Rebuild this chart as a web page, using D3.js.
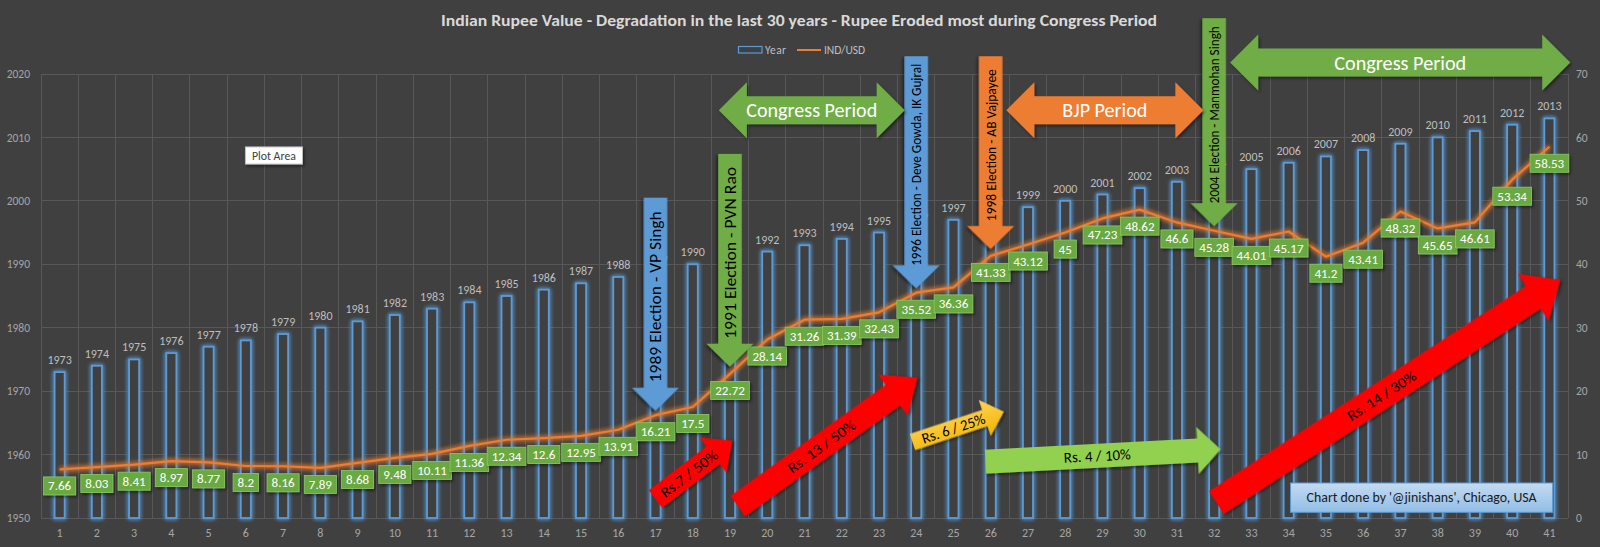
<!DOCTYPE html>
<html lang="en">
<head>
<meta charset="UTF-8">
<script src="https://d3js.org/d3.v7.min.js"></script>
<title>Indian Rupee Value</title>
<style>
  html, body { margin: 0; padding: 0; background: #404040; }
  svg { display: block; }
  text { font-family: Carlito, Calibri, "Liberation Sans Narrow", "DejaVu Sans Condensed", "Open Sans", sans-serif; }
</style>
</head>
<body>
<svg id="chart" width="1600" height="547"></svg>
<script>
// ---- data ----
const categories = [1, 2, 3, 4, 5, 6, 7, 8, 9, 10, 11, 12, 13, 14, 15, 16, 17, 18, 19, 20,
    21, 22, 23, 24, 25, 26, 27, 28, 29, 30, 31, 32, 33, 34, 35, 36, 37, 38, 39, 40, 41];
const years = [1973, 1974, 1975, 1976, 1977, 1978, 1979, 1980, 1981, 1982, 1983, 1984, 1985, 1986,
    1987, 1988, 1989, 1990, 1991, 1992, 1993, 1994, 1995, 1996, 1997, 1998, 1999, 2000, 2001, 2002,
    2003, 2004, 2005, 2006, 2007, 2008, 2009, 2010, 2011, 2012, 2013];
const indUsd = [7.66, 8.03, 8.41, 8.97, 8.77, 8.2, 8.16, 7.89, 8.68, 9.48, 10.11, 11.36, 12.34, 12.6,
    12.95, 13.91, 16.21, 17.5, 22.72, 28.14, 31.26, 31.39, 32.43, 35.52, 36.36, 41.33, 43.12, 45,
    47.23, 48.62, 46.6, 45.28, 44.01, 45.17, 41.2, 43.41, 48.32, 45.65, 46.61, 53.34, 58.53];
const leftTicks = [1950, 1960, 1970, 1980, 1990, 2000, 2010, 2020];
const rightTicks = [0, 10, 20, 30, 40, 50, 60, 70];
const seriesNames = ["Year", "IND/USD"];
const title = "Indian Rupee Value - Degradation in the last 30 years - Rupee Eroded most during Congress Period";

// annotations, placed in chart units (category position, IND/USD value)
const electionArrows = [
    { label: "1989 Election - VP Singh", cat: 17, from: 50.5, to: 16.9, fill: "#5b9bd5", size: 17, len: 171 },
    { label: "1991 Election - PVN Rao", cat: 19, from: 57.4, to: 23.85, fill: "#70ad47", size: 17, len: 172 },
    { label: "1996 Election - Deve Gowda, IK Gujral", cat: 24, from: 72.8, to: 36.2, fill: "#5b9bd5", size: 13.5, len: 202 },
    { label: "1998 Election - AB Vajpayee", cat: 26, from: 72.8, to: 42.4, fill: "#ed7d31", size: 14, len: 152 },
    { label: "2004 Election - Manmohan Singh", cat: 32, from: 78.8, to: 46.0, fill: "#70ad47", size: 13.5, len: 177 }
];
const periodArrows = [
    { label: "Congress Period", from: 18.70, to: 23.69, at: 64.3, fill: "#70ad47", len: 131 },
    { label: "BJP Period", from: 26.42, to: 31.71, at: 64.3, fill: "#ed7d31", len: 85 },
    { label: "Congress Period", from: 32.43, to: 41.56, at: 71.8, fill: "#70ad47", len: 132 }
];
const changeArrows = [
    { label: "Rs.7 / 50%", from: [17.0, 3.0], to: [19.06, 12.19], fill: "#ff0000", sw: 22, hw: 44, hl: 24, len: 68 },
    { label: "Rs. 13 / 50%", from: [19.21, 1.89], to: [24.03, 22.12], fill: "#ff0000", sw: 25, hw: 50, hl: 30, len: 80 },
    { label: "Rs. 6 / 25%", from: [23.90, 11.98], to: [26.35, 16.76], fill: "url(#gold)", sw: 17, hw: 38, hl: 20, len: 66 },
    { label: "Rs. 4 / 10%", from: [25.86, 8.88], to: [32.17, 10.83], fill: "#92d050", sw: 24, hw: 47, hl: 23, len: 67 },
    { label: "Rs. 14 / 30%", from: [32.06, 2.44], to: [41.29, 37.52], fill: "#ff0000", sw: 27, hw: 56, hl: 32, len: 79 }
];

// ---- layout ----
const svg = d3.select("#chart");
const plot = { left: 41, right: 1568, top: 74, bottom: 518 };

const x = d3.scaleBand().domain(categories).range([plot.left, plot.right])
    .paddingInner(0.73).paddingOuter(0.365);
const xc = d3.scaleLinear().domain([0.5, categories.length + 0.5]).range([plot.left, plot.right]);
const yLeft = d3.scaleLinear().domain([1950, 2020]).range([plot.bottom, plot.top]);
const yRight = d3.scaleLinear().domain([0, 70]).range([plot.bottom, plot.top]);

const defs = svg.append("defs");
const glow = (id, sd) => {
    const f = defs.append("filter").attr("id", id)
        .attr("x", "-60%").attr("y", "-20%").attr("width", "220%").attr("height", "140%");
    f.append("feGaussianBlur").attr("in", "SourceGraphic").attr("stdDeviation", sd).attr("result", "b");
    const m = f.append("feMerge");
    m.append("feMergeNode").attr("in", "b");
    m.append("feMergeNode").attr("in", "b");
    m.append("feMergeNode").attr("in", "SourceGraphic");
};
glow("glowBlue", 2.2);
glow("glowOrange", 2.5);
defs.append("filter").attr("id", "shadow")
    .attr("x", "-20%").attr("y", "-20%").attr("width", "140%").attr("height", "150%")
    .append("feDropShadow").attr("dx", 1.5).attr("dy", 2).attr("stdDeviation", 1.5)
    .attr("flood-color", "#000").attr("flood-opacity", 0.45);
const gold = defs.append("linearGradient").attr("id", "gold").attr("x1", 0).attr("y1", 0).attr("x2", 0).attr("y2", 1);
gold.append("stop").attr("offset", "0%").attr("stop-color", "#ffd457");
gold.append("stop").attr("offset", "100%").attr("stop-color", "#f0b400");
const credit = defs.append("linearGradient").attr("id", "credit").attr("x1", 0).attr("y1", 0).attr("x2", 0).attr("y2", 1);
credit.append("stop").attr("offset", "0%").attr("stop-color", "#c3dbf2");
credit.append("stop").attr("offset", "100%").attr("stop-color", "#92bde6");

svg.append("rect").attr("width", 1600).attr("height", 547).attr("fill", "#404040");

// title + legend
svg.append("text")
    .attr("x", 799).attr("y", 26)
    .attr("text-anchor", "middle")
    .attr("font-size", 16).attr("font-weight", "bold")
    .attr("fill", "#d9d9d9")
    .attr("textLength", 716).attr("lengthAdjust", "spacingAndGlyphs")
    .text(title);

const legend = svg.append("g").attr("font-size", 11.5).attr("fill", "#bfbfbf");
legend.append("rect").attr("x", 738.5).attr("y", 46.5).attr("width", 23.5).attr("height", 6.5)
    .attr("fill", "none").attr("stroke", "#5b9bd5").attr("stroke-width", 1.2);
legend.append("text").attr("x", 765).attr("y", 54).attr("textLength", 21).text(seriesNames[0]);
legend.append("line").attr("x1", 797).attr("x2", 821).attr("y1", 50).attr("y2", 50)
    .attr("stroke", "#ed7d31").attr("stroke-width", 2);
legend.append("text").attr("x", 824).attr("y", 54).attr("textLength", 41).text(seriesNames[1]);

// grid
const grid = svg.append("g").attr("stroke", "#585858").attr("stroke-width", 1).attr("shape-rendering", "crispEdges");
grid.selectAll(".h").data(leftTicks).join("line")
    .attr("x1", plot.left).attr("x2", plot.right)
    .attr("y1", d => yLeft(d)).attr("y2", d => yLeft(d));
grid.selectAll(".v").data(categories.map(c => c - 0.5).concat([categories.length + 0.5])).join("line")
    .attr("x1", d => xc(d)).attr("x2", d => xc(d))
    .attr("y1", plot.top).attr("y2", plot.bottom);

// axes
const styleAxis = g => {
    g.select(".domain").remove();
    g.selectAll("text").attr("fill", "#a6a6a6").attr("font-size", 11.5)
        .style("font-family", "Carlito, Calibri, 'Liberation Sans Narrow', 'DejaVu Sans Condensed', sans-serif");
};
svg.append("g").attr("transform", `translate(${plot.left},0)`)
    .call(d3.axisLeft(yLeft).tickValues(leftTicks).tickSize(0).tickPadding(11).tickFormat(d3.format("d")))
    .call(styleAxis);
svg.append("g").attr("transform", `translate(${plot.right},0)`)
    .call(d3.axisRight(yRight).tickValues(rightTicks).tickSize(0).tickPadding(8))
    .call(styleAxis);
svg.append("g").attr("transform", `translate(0,${plot.bottom})`)
    .call(d3.axisBottom(x).tickSize(0).tickPadding(10))
    .call(styleAxis)
    .call(g => g.selectAll("text").attr("font-size", 12));

// Year bars (hollow, glowing)
svg.append("g").attr("filter", "url(#glowBlue)")
    .selectAll("rect").data(categories).join("rect")
    .attr("x", d => x(d))
    .attr("y", (d, i) => yLeft(years[i]))
    .attr("width", x.bandwidth())
    .attr("height", (d, i) => yLeft(1950) - yLeft(years[i]))
    .attr("fill", "#404040")
    .attr("stroke", "#5b9bd5").attr("stroke-width", 1.8);

svg.append("g").attr("font-size", 12).attr("fill", "#bfbfbf").attr("text-anchor", "middle")
    .selectAll("text").data(categories).join("text")
    .attr("x", d => x(d) + x.bandwidth() / 2)
    .attr("y", (d, i) => yLeft(years[i]) - 8)
    .text((d, i) => years[i]);

// IND/USD line
const line = d3.line()
    .x((d, i) => x(categories[i]) + x.bandwidth() / 2)
    .y(d => yRight(d));
svg.append("path").datum(indUsd)
    .attr("d", line)
    .attr("fill", "none")
    .attr("stroke", "#ed7d31").attr("stroke-width", 2.2)
    .attr("stroke-linejoin", "round")
    .attr("filter", "url(#glowOrange)");

// green value labels
const labels = svg.append("g").selectAll("g").data(indUsd).join("g")
    .attr("transform", (d, i) => `translate(${x(categories[i]) + x.bandwidth() / 2},${yRight(d) + 16.5})`);
labels.append("rect").attr("filter", "url(#shadow)");
labels.append("text")
    .attr("text-anchor", "middle").attr("dy", "0.35em")
    .attr("font-size", 13).attr("fill", "#ffffff")
    .text(d => d);
labels.each(function () {
    const g = d3.select(this);
    const w = g.select("text").node().getComputedTextLength() + 9;
    g.select("rect")
        .attr("x", -w / 2).attr("y", -9).attr("width", w).attr("height", 18)
        .attr("fill", "#6aa843").attr("stroke", "#8ccb62").attr("stroke-width", 0.8);
});

// ---- annotations ----
function arrowPath(len, sw, hw, hl) {
    return `M0,${-sw / 2}L${len - hl},${-sw / 2}L${len - hl},${-hw / 2}L${len},0` +
        `L${len - hl},${hw / 2}L${len - hl},${sw / 2}L0,${sw / 2}Z`;
}
function drawArrow(parent, tail, tip, o) {
    const dx = tip[0] - tail[0], dy = tip[1] - tail[1];
    const len = Math.hypot(dx, dy), ang = Math.atan2(dy, dx) * 180 / Math.PI;
    const g = parent.append("g").attr("transform", `translate(${tail[0]},${tail[1]}) rotate(${ang})`);
    g.append("path").attr("d", arrowPath(len, o.sw, o.hw, o.hl))
        .attr("fill", o.fill).attr("filter", "url(#shadow)");
    const tx = (len - o.hl) / 2 + (o.shift || 0);
    g.append("text")
        .attr("x", tx).attr("y", 0)
        .attr("transform", ang > 45 ? `rotate(180,${tx},0)` : null)
        .attr("text-anchor", "middle").attr("dy", "0.35em")
        .attr("font-size", o.size).attr("fill", o.color || "#000")
        .attr("textLength", o.len).attr("lengthAdjust", "spacingAndGlyphs")
        .text(o.label);
}

const notes = svg.append("g");

electionArrows.forEach(a => {
    drawArrow(notes, [xc(a.cat), yRight(a.from)], [xc(a.cat), yRight(a.to)],
        { sw: 23.5, hw: 47, hl: 23, fill: a.fill, size: a.size, len: a.len, label: a.label, shift: 4 });
});

periodArrows.forEach(a => {
    const x0 = xc(a.from), x1 = xc(a.to), y = yRight(a.at);
    const sw = 28, hw = 56, hl = 28;
    notes.append("path")
        .attr("d", `M${x0},${y}L${x0 + hl},${y - hw / 2}L${x0 + hl},${y - sw / 2}L${x1 - hl},${y - sw / 2}` +
            `L${x1 - hl},${y - hw / 2}L${x1},${y}L${x1 - hl},${y + hw / 2}L${x1 - hl},${y + sw / 2}` +
            `L${x0 + hl},${y + sw / 2}L${x0 + hl},${y + hw / 2}Z`)
        .attr("fill", a.fill).attr("filter", "url(#shadow)");
    notes.append("text")
        .attr("x", (x0 + x1) / 2).attr("y", y).attr("dy", "0.35em")
        .attr("text-anchor", "middle").attr("font-size", 20).attr("fill", "#ffffff")
        .attr("textLength", a.len).attr("lengthAdjust", "spacingAndGlyphs")
        .text(a.label);
});

changeArrows.forEach(a => {
    drawArrow(notes, [xc(a.from[0]), yRight(a.from[1])], [xc(a.to[0]), yRight(a.to[1])],
        { sw: a.sw, hw: a.hw, hl: a.hl, fill: a.fill, size: 15, len: a.len, label: a.label, shift: a.hl / 4 });
});

// "Plot Area" tooltip box
const tip = notes.append("g");
tip.append("rect")
    .attr("x", xc(5.99)).attr("y", yRight(58.5))
    .attr("width", xc(7.52) - xc(5.99)).attr("height", yRight(55.8) - yRight(58.5))
    .attr("fill", "#ffffff").attr("stroke", "#bfbfbf").attr("filter", "url(#shadow)");
tip.append("text")
    .attr("x", (xc(5.99) + xc(7.52)) / 2).attr("y", (yRight(58.5) + yRight(55.8)) / 2).attr("dy", "0.35em")
    .attr("text-anchor", "middle").attr("font-size", 11.5).attr("fill", "#404040")
    .attr("textLength", 44).attr("lengthAdjust", "spacingAndGlyphs")
    .text("Plot Area");

// credit box
const cred = notes.append("g");
cred.append("rect")
    .attr("x", xc(34.05)).attr("y", yRight(5.52))
    .attr("width", xc(41.09) - xc(34.05)).attr("height", yRight(0.9) - yRight(5.52))
    .attr("fill", "url(#credit)").attr("stroke", "#5b9bd5").attr("stroke-width", 1);
cred.append("text")
    .attr("x", (xc(34.05) + xc(41.09)) / 2).attr("y", (yRight(5.52) + yRight(0.9)) / 2).attr("dy", "0.35em")
    .attr("text-anchor", "middle").attr("font-size", 13.5).attr("fill", "#1a1a1a")
    .attr("textLength", 230).attr("lengthAdjust", "spacingAndGlyphs")
    .text("Chart done by '@jinishans', Chicago, USA");
</script>
</body>
</html>
